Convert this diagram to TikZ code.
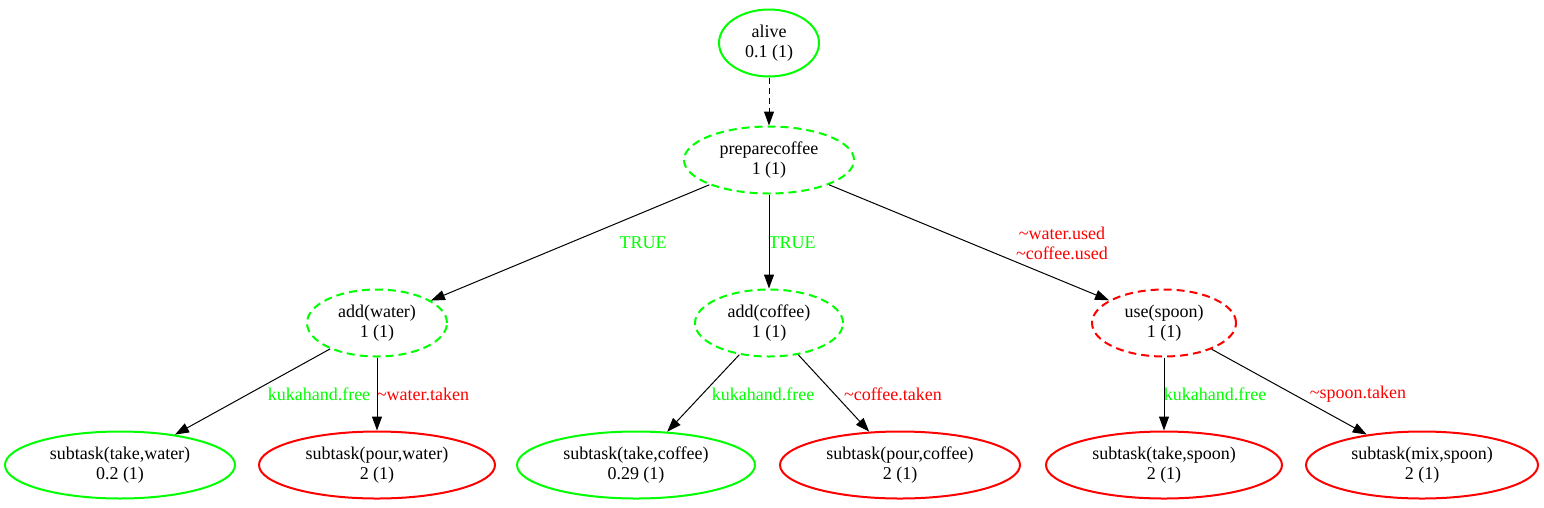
\documentclass[tikz,border=0pt]{standalone}
\usepackage{fontspec}
\setmainfont{Liberation Serif}
\usetikzlibrary{shapes,arrows.meta,positioning}
\definecolor{gvgreen}{RGB}{0,255,0}
\definecolor{gvred}{RGB}{255,0,0}

\begin{document}
\begin{tikzpicture}[x=1pt,y=-1pt,font=\fontsize{18}{20}\selectfont]
    % Define styles
    \tikzstyle{state} = [ellipse, inner sep=0pt, minimum height=67pt, align=center, line width=2pt]
    \tikzstyle{okgoal} = [state, draw=gvgreen]
    \tikzstyle{okmethod} = [state, draw=gvgreen, dash pattern=on 8pt off 5pt]
    \tikzstyle{badmethod} = [state, draw=gvred, dash pattern=on 8pt off 5pt]
    \tikzstyle{badgoal} = [state, draw=gvred]
    \tikzstyle{oklabel} = [text=gvgreen, inner sep=0pt, align=center]
    \tikzstyle{badlabel} = [text=gvred, inner sep=0pt, align=center]
    \tikzstyle{arrow} = [line width=1pt, -{Triangle[length=14pt,width=10pt]}]
    \useasboundingbox (0,0) rectangle (1544,507);

    % Nodes
    \node (alive) [okgoal, minimum width=100pt] at (769,43) {alive\\0.1 (1)};
    \node (prepare) [okmethod, minimum width=170pt] at (769,160) {preparecoffee\\1 (1)};
    \node (addwater) [okmethod, minimum width=140pt] at (377,323) {add(water)\\1 (1)};
    \node (addcoffee) [okmethod, minimum width=148pt] at (769,323) {add(coffee)\\1 (1)};
    \node (usespoon) [badmethod, minimum width=144pt] at (1164,323) {use(spoon)\\1 (1)};

    \node (takewater) [okgoal, minimum width=230pt] at (120,465) {subtask(take,water)\\0.2 (1)};
    \node (pourwater) [badgoal, minimum width=236pt] at (377,465) {subtask(pour,water)\\2 (1)};
    \node (takecoffee) [okgoal, minimum width=238pt] at (636,465) {subtask(take,coffee)\\0.29 (1)};
    \node (pourcoffee) [badgoal, minimum width=240pt] at (900,465) {subtask(pour,coffee)\\2 (1)};
    \node (takespoon) [badgoal, minimum width=236pt] at (1164,465) {subtask(take,spoon)\\2 (1)};
    \node (mixspoon) [badgoal, minimum width=232pt] at (1422,465) {subtask(mix,spoon)\\2 (1)};

    % Labels
    \node (true1) [oklabel] at (643,243) {TRUE};
    \node (true2) [oklabel] at (792,243) {TRUE};
    \node (used) [badlabel] at (1062,243) {\textasciitilde water.used\\\textasciitilde coffee.used};
    \node (free1) [oklabel] at (319,394) {kukahand.free};
    \node (wtaken) [badlabel] at (423,394) {\textasciitilde water.taken};
    \node (free2) [oklabel] at (763,394) {kukahand.free};
    \node (ctaken) [badlabel] at (893,394) {\textasciitilde coffee.taken};
    \node (free3) [oklabel] at (1215,394) {kukahand.free};
    \node (staken) [badlabel] at (1358,394) {\textasciitilde spoon.taken};

    % Arrows
    \draw [arrow, dash pattern=on 6pt off 4pt] (alive) -- (prepare);
    \draw [arrow] (prepare) -- (addwater);
    \draw [arrow] (prepare) -- (addcoffee);
    \draw [arrow] (prepare) -- (usespoon);
    \draw [arrow] (addwater) -- (takewater);
    \draw [arrow] (addwater) -- (pourwater);
    \draw [arrow] (addcoffee) -- (takecoffee);
    \draw [arrow] (addcoffee) -- (pourcoffee);
    \draw [arrow] (usespoon) -- (takespoon);
    \draw [arrow] (usespoon) -- (mixspoon);
\end{tikzpicture}
\end{document}
